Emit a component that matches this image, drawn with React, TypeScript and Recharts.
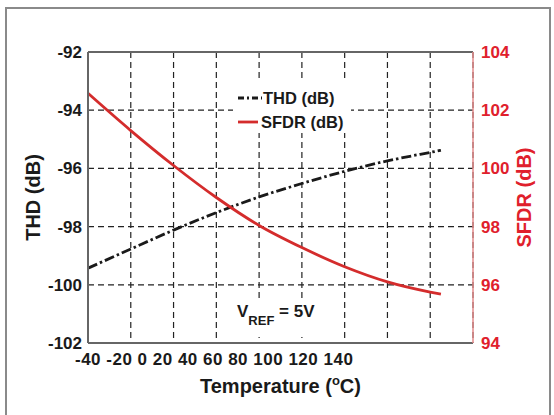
import React from 'react';
import { LineChart, Line, XAxis, YAxis, CartesianGrid, Legend, ReferenceLine } from 'recharts';

// THD and SFDR versus temperature (VREF = 5V)
const temperatures = [-40, -20, 0, 20, 40, 60, 80, 100, 120, 125];
const thdValues = [-99.43, -98.77, -98.12, -97.52, -96.98, -96.52, -96.1, -95.74, -95.45, -95.38];
const sfdrValues = [102.58, 101.3, 100.1, 99.0, 98.04, 97.28, 96.62, 96.1, 95.75, 95.68];

const xTicks = [-40, -20, 0, 20, 40, 60, 80, 100, 120, 140];
const xTickLabels = ['-40', '-20', '0', '20', '40', '60', '80', '100', '120', '140'];
const thdTicks = [-102, -100, -98, -96, -94, -92];
const sfdrTicks = [94, 96, 98, 100, 102, 104];
const legendOrder = ['thd', 'sfdr'];

const data = temperatures.map((t, i) => ({ temp: t, thd: thdValues[i], sfdr: sfdrValues[i] }));

const FONT = "'Liberation Sans', Arial, sans-serif";
const RED = '#e0202c';
const RED_LINE = '#d42c2c';
const THD_DASH = '10 3 2.5 3';

const renderXTick = (props: any) => {
  const { x, y, index } = props;
  if (index !== 0) return <g />;
  // labels are printed as one run of text under the left part of the axis
  return (
    <text x={x - 13} y={y + 22} fontFamily={FONT} fontWeight="bold" fontSize={17} letterSpacing={0.5} fill="#1a1a1a">
      {xTickLabels.join(' ')}
    </text>
  );
};

const renderXTitle = (props: any) => {
  const { viewBox } = props;
  const cx = viewBox.x + viewBox.width / 2;
  return (
    <text x={cx} y={393} textAnchor="middle" fontFamily={FONT} fontWeight="bold" fontSize={20} fill="#1a1a1a">
      Temperature (<tspan dy={-8} fontSize={13}>o</tspan><tspan dy={8}>C)</tspan>
    </text>
  );
};

const renderLegend = (props: any) => {
  const items = [...(props.payload || [])].sort(
    (a: any, b: any) => legendOrder.indexOf(a.dataKey) - legendOrder.indexOf(b.dataKey)
  );
  return (
    <svg width={118} height={51} style={{ display: 'block', background: '#fff' }}>
      {items.map((entry: any, i: number) => {
        const y = 16 + i * 24;
        const isThd = entry.dataKey === 'thd';
        return (
          <g key={entry.dataKey}>
            <line
              x1={5}
              x2={isThd ? 29 : 25}
              y1={y}
              y2={y}
              stroke={entry.color}
              strokeWidth={2.8}
              strokeDasharray={isThd ? '6 3 2 3' : undefined}
            />
            <text x={isThd ? 30 : 28} y={y + 6} fontFamily={FONT} fontWeight="bold" fontSize={16.5} fill="#1a1a1a">
              {entry.value}
            </text>
          </g>
        );
      })}
    </svg>
  );
};

export default function App() {
  return (
    <div style={{ position: 'absolute', left: 0, top: 0, width: 554, height: 415, overflow: 'hidden', background: '#fff' }}>
      <div
        style={{
          position: 'absolute',
          left: 5,
          top: 7,
          width: 546,
          height: 408,
          borderTop: '2px solid #8a8a8a',
          borderLeft: '2px solid #8a8a8a',
          borderRight: '2px solid #8a8a8a',
          boxSizing: 'border-box',
        }}
      />
      <div style={{ position: 'absolute', left: 0, top: 0 }}>
        <LineChart width={554} height={415} data={data} margin={{ top: 52, right: 21, bottom: 42, left: 28 }}>
          <CartesianGrid yAxisId="left" stroke="#222" strokeWidth={1.2} strokeDasharray="6 4" />
          <XAxis
            dataKey="temp"
            type="number"
            domain={[-40, 140]}
            ticks={xTicks}
            height={30}
            tickSize={0}
            tickMargin={0}
            tick={renderXTick}
            axisLine={{ stroke: '#666', strokeWidth: 2 }}
            label={{ content: renderXTitle }}
          />
          <YAxis
            yAxisId="left"
            domain={[-102, -92]}
            ticks={thdTicks}
            width={60}
            tickSize={0}
            tickMargin={6}
            tickLine={false}
            axisLine={{ stroke: '#666', strokeWidth: 2 }}
            tick={{ fontFamily: FONT, fontWeight: 'bold', fontSize: 17, fill: '#1a1a1a' }}
            label={{
              value: 'THD (dB)',
              angle: -90,
              position: 'insideLeft',
              offset: 5,
              style: { textAnchor: 'middle', fontFamily: FONT, fontWeight: 'bold', fontSize: 20, fill: '#1a1a1a' },
            }}
          />
          <YAxis
            yAxisId="right"
            orientation="right"
            domain={[94, 104]}
            ticks={sfdrTicks}
            width={60}
            tickSize={0}
            tickMargin={8}
            tickLine={false}
            axisLine={{ stroke: '#e48a8a', strokeWidth: 1.5 }}
            tick={{ fontFamily: FONT, fontWeight: 'bold', fontSize: 17, fill: RED }}
            label={{
              value: 'SFDR (dB)',
              angle: -90,
              position: 'insideRight',
              offset: 9,
              style: { textAnchor: 'middle', fontFamily: FONT, fontWeight: 'bold', fontSize: 20, fill: RED },
            }}
          />
          <ReferenceLine yAxisId="left" y={-92} stroke="#666" strokeWidth={2} />
          <Legend
            layout="vertical"
            align="center"
            verticalAlign="middle"
            content={renderLegend}
            wrapperStyle={{ left: 233, top: 82, width: 118, height: 51 }}
          />
          <Line
            yAxisId="left"
            type="monotone"
            dataKey="thd"
            name="THD (dB)"
            stroke="#1a1a1a"
            strokeWidth={2.8}
            strokeDasharray={THD_DASH}
            dot={false}
            isAnimationActive={false}
          />
          <Line
            yAxisId="right"
            type="monotone"
            dataKey="sfdr"
            name="SFDR (dB)"
            stroke={RED_LINE}
            strokeWidth={2.8}
            dot={false}
            isAnimationActive={false}
          />
        </LineChart>
      </div>
      <div style={{ position: 'absolute', left: 225, top: 300, width: 96, height: 37, background: '#fff' }}>
        <svg width={96} height={37} style={{ display: 'block' }}>
          <text x={12} y={17} fontFamily={FONT} fontWeight="bold" fontSize={17} fill="#1a1a1a">
            V<tspan dy={8} fontSize={13}>REF</tspan>
            <tspan dy={-8}> = 5V</tspan>
          </text>
        </svg>
      </div>
    </div>
  );
}
